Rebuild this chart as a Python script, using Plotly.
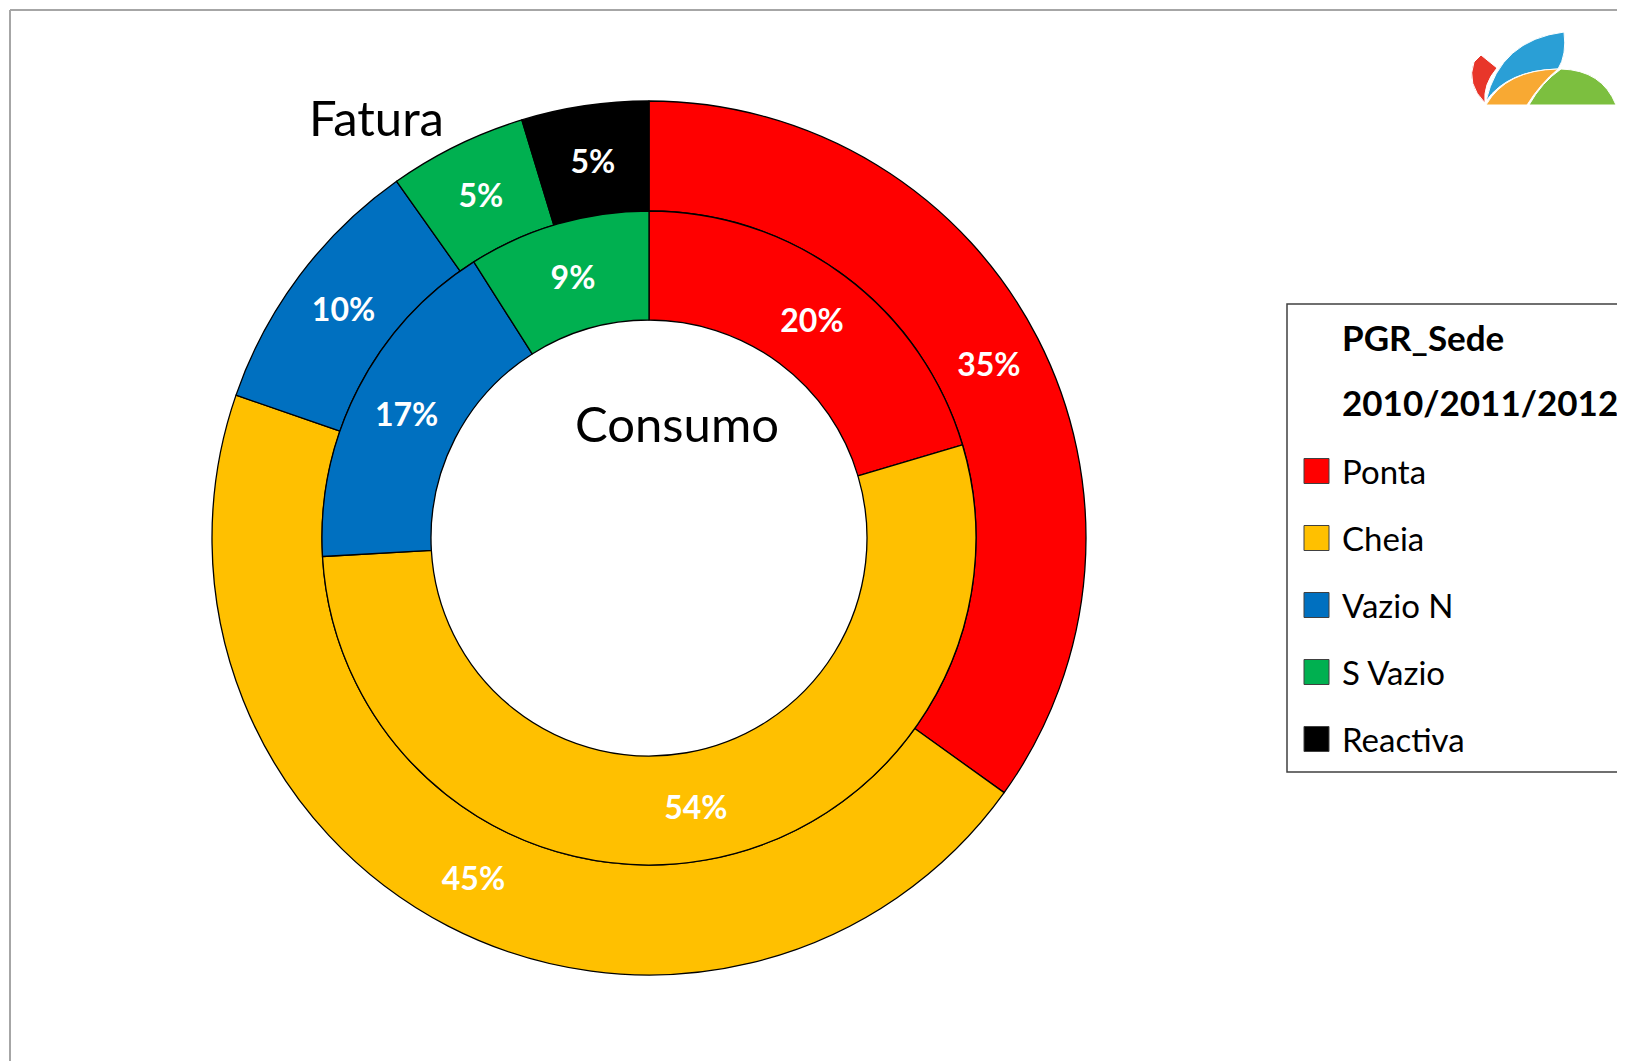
import plotly.graph_objects as go

# page body adds an 8px margin, so the figure is offset by 8px
OFF = 8
W, H = 1625 - OFF, 1061 - OFF

categories = ["Ponta", "Cheia", "Vazio N", "S Vazio", "Reactiva"]
colors = ["#FF0000", "#FFC000", "#0070C0", "#00B050", "#000000"]
fatura_values = [34.9, 45.4, 9.9, 5.1, 4.7]
consumo_values = [20.4, 53.7, 16.9, 9.0]
legend_title = ["PGR_Sede", "2010/2011/2012"]
ring_titles = ["Fatura", "Consumo"]

FONT = "Lato"


def px(x):
    return (x - OFF) / W


def py(y):
    return 1 - (y - OFF) / H


cx, cy = 649, 538
r_out, r_mid, r_in = 437, 327, 218

fig = go.Figure()

fig.add_trace(go.Pie(
    labels=categories,
    values=fatura_values,
    sort=False,
    direction="clockwise",
    rotation=0,
    hole=r_mid / r_out,
    marker=dict(colors=colors, line=dict(color="#000000", width=1.3)),
    texttemplate="%{percent:.0%}",
    textposition="inside",
    insidetextorientation="horizontal",
    textfont=dict(family=FONT, size=32, color="white", weight="bold"),
    domain=dict(x=[px(cx - r_out), px(cx + r_out)], y=[py(cy + r_out), py(cy - r_out)]),
    showlegend=False,
    hoverinfo="label+percent",
))

fig.add_trace(go.Pie(
    labels=categories[:4],
    values=consumo_values,
    sort=False,
    direction="clockwise",
    rotation=0,
    hole=r_in / r_mid,
    marker=dict(colors=colors[:4], line=dict(color="#000000", width=1.3)),
    texttemplate="%{percent:.0%}",
    textposition="inside",
    insidetextorientation="horizontal",
    textfont=dict(family=FONT, size=32, color="white", weight="bold"),
    domain=dict(x=[px(cx - r_mid), px(cx + r_mid)], y=[py(cy + r_mid), py(cy - r_mid)]),
    showlegend=False,
    hoverinfo="label+percent",
))

shapes = []
annotations = []

# frame lines (top and left)
shapes.append(dict(type="line", xref="paper", yref="paper", x0=px(10), x1=px(1640), y0=py(10), y1=py(10),
                   line=dict(color="#A6A6A6", width=2)))
shapes.append(dict(type="line", xref="paper", yref="paper", x0=px(10), x1=px(10), y0=py(10), y1=py(1070),
                   line=dict(color="#A6A6A6", width=2)))


def P(pts):
    out = []
    for cmd, coords in pts:
        s = cmd
        for (x, y) in coords:
            s += f"{px(x)},{py(y)} "
        out.append(s.strip())
    return " ".join(out) + " Z"


# logo
logo = [
    ("#E8362A", [("M", [(1481, 55)]), ("L", [(1497, 68)]), ("Q", [(1483, 84), (1485, 103)]),
                 ("Q", [(1466, 84), (1474, 62)])]),
    ("#2A9FD6", [("M", [(1486, 101)]), ("Q", [(1500, 40), (1564, 32)]), ("Q", [(1567, 55), (1558, 69)]),
                 ("Q", [(1508, 70), (1486, 101)])]),
    ("#F8A933", [("M", [(1486, 105)]), ("Q", [(1506, 70), (1558, 69)]), ("Q", [(1540, 84), (1527, 105)])]),
    ("#7CBF3F", [("M", [(1529, 105)]), ("Q", [(1542, 82), (1561, 69)]), ("Q", [(1602, 70), (1616, 105)])]),
]
for col, pts in logo:
    shapes.append(dict(type="path", xref="paper", yref="paper", path=P(pts),
                       fillcolor=col, line=dict(color="white", width=1)))

# manual legend
lx0, ly0, ly1 = 1287, 304, 772
shapes.append(dict(type="rect", xref="paper", yref="paper", x0=px(lx0), x1=px(1660), y0=py(ly0), y1=py(ly1),
                   line=dict(color="#404040", width=1.5), fillcolor="rgba(0,0,0,0)"))
title_y = [337, 402]
for t, yy in zip(legend_title, title_y):
    annotations.append(dict(text=f"<b>{t}</b>", x=px(1340), y=py(yy), xref="paper", yref="paper",
                            xanchor="left", yanchor="middle", showarrow=False,
                            font=dict(family=FONT, size=35, color="black")))
item_y0, item_dy = 471, 67
for i, (cat, col) in enumerate(zip(categories, colors)):
    yy = item_y0 + i * item_dy
    shapes.append(dict(type="rect", xref="paper", yref="paper", x0=px(1304), x1=px(1329),
                       y0=py(yy - 12.5), y1=py(yy + 12.5), fillcolor=col, line=dict(color="#404040", width=1)))
    annotations.append(dict(text=cat, x=px(1340), y=py(yy), xref="paper", yref="paper",
                            xanchor="left", yanchor="middle", showarrow=False,
                            font=dict(family=FONT, size=33, color="black")))

# ring titles
annotations.append(dict(text=ring_titles[0], x=px(376), y=py(117), xref="paper", yref="paper",
                        xanchor="center", yanchor="middle", showarrow=False,
                        font=dict(family=FONT, size=49, color="black")))
annotations.append(dict(text=ring_titles[1], x=px(677), y=py(423), xref="paper", yref="paper",
                        xanchor="center", yanchor="middle", showarrow=False,
                        font=dict(family=FONT, size=49, color="black")))

fig.update_layout(
    width=W, height=H,
    margin=dict(l=0, r=0, t=0, b=0),
    paper_bgcolor="white",
    plot_bgcolor="white",
    showlegend=False,
    shapes=shapes,
    annotations=annotations,
)

fig.write_html("out.html")
